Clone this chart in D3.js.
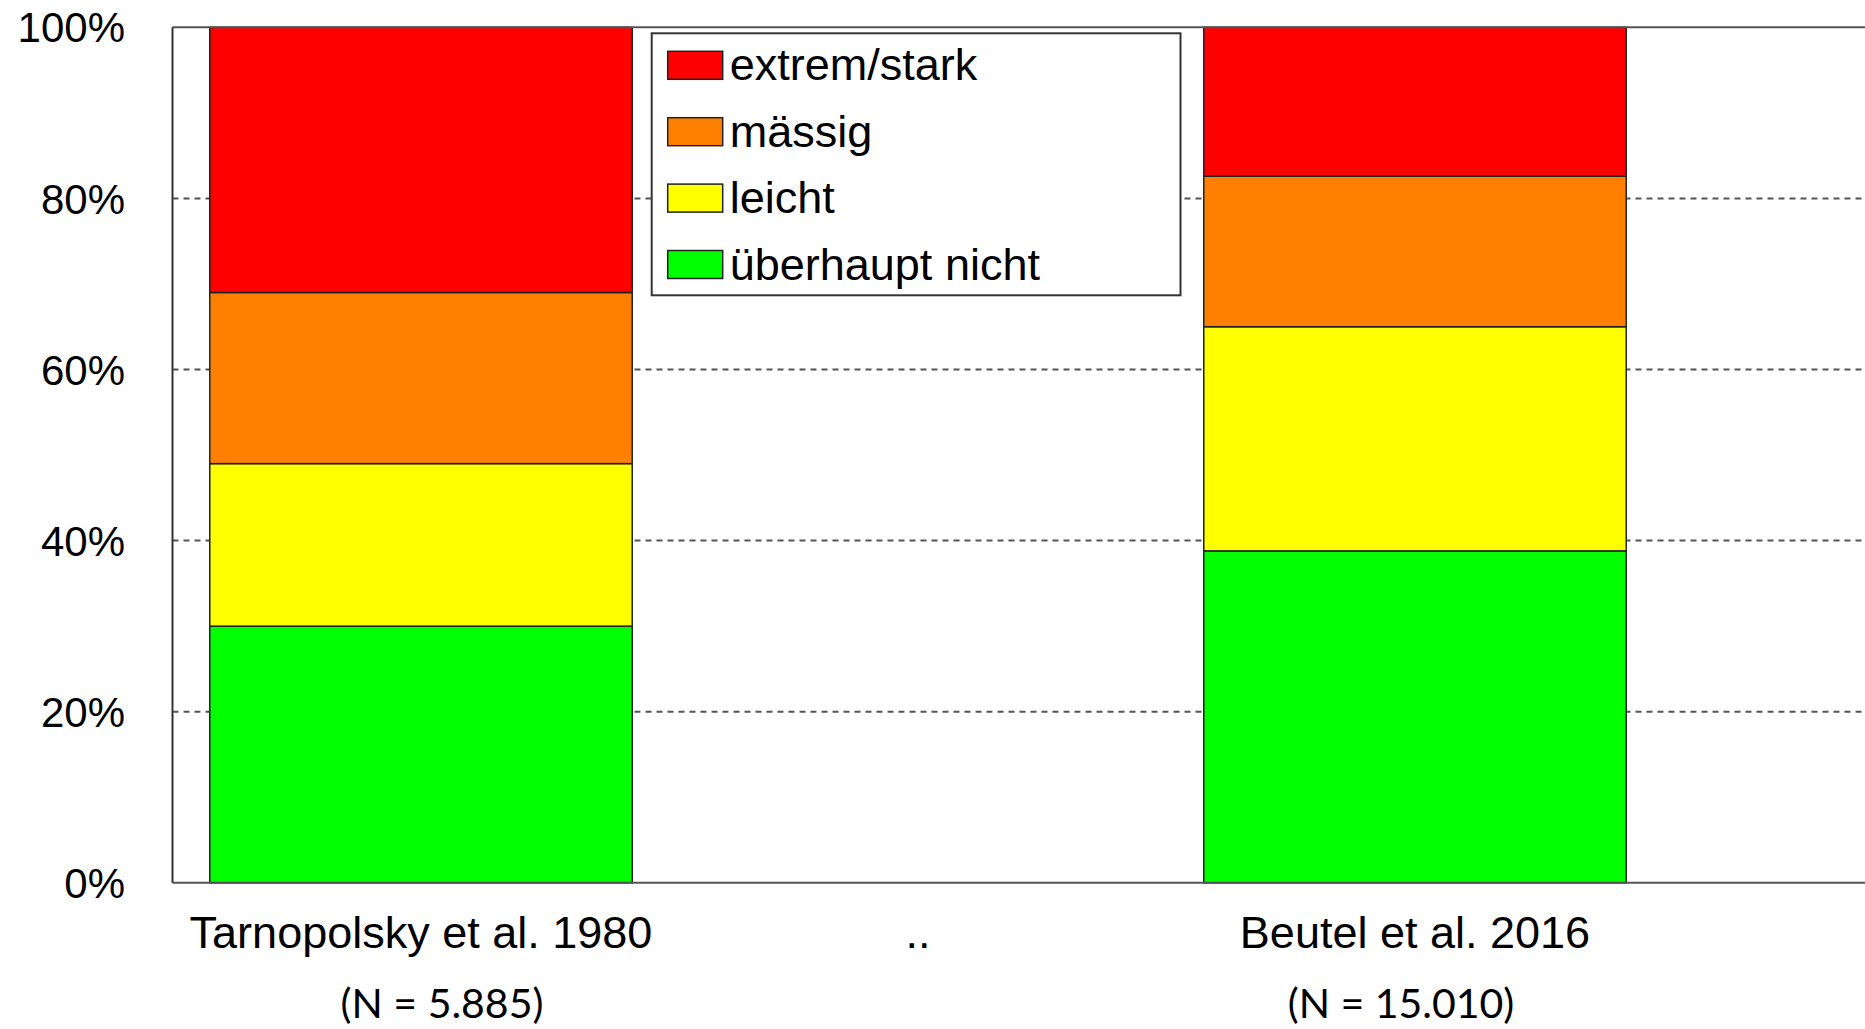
<!DOCTYPE html>
<html>
<head>
<meta charset="utf-8">
<script src="https://cdnjs.cloudflare.com/ajax/libs/d3/7.8.5/d3.min.js"></script>
<style>
  body { margin: 0; background: #fff; }
  svg { display: block; }
  text { font-family: Arial, "Liberation Sans", sans-serif; fill: #000; }
</style>
</head>
<body>
<svg width="1865" height="1029"></svg>
<script>
var categories = ["Tarnopolsky et al. 1980", "..", "Beutel et al. 2016"];
var sampleSizes = ["(N = 5.885)", "", "(N = 15.010)"];
var levels = ["überhaupt nicht", "leicht", "mässig", "extrem/stark"];
var colors = ["#00ff00", "#ffff00", "#ff8000", "#ff0000"];
// percent per level (bottom to top), one entry per category; null = no bar
var notAtAll = [30, null, 38.8];
var slight   = [19, null, 26.2];
var moderate = [20, null, 17.6];
var strong   = [31, null, 17.4];
var yTicks = [0, 20, 40, 60, 80, 100];

var svg = d3.select("svg"),
    width = +svg.attr("width"),
    height = +svg.attr("height");

var plotLeft = 172.5, plotTop = 27.3, plotBottom = 882.8;

var x = d3.scaleBand()
    .domain(categories)
    .range([plotLeft, 1663.5])
    .paddingInner(0.15)
    .paddingOuter(0.075);

var y = d3.scaleLinear().domain([0, 100]).range([plotBottom, plotTop]);

// dashed grid
svg.append("g")
  .selectAll("line")
  .data(yTicks.filter(function(d) { return d > 0 && d < 100; }))
  .enter().append("line")
    .attr("x1", plotLeft).attr("x2", width)
    .attr("y1", function(d) { return y(d); })
    .attr("y2", function(d) { return y(d); })
    .style("stroke", "#555")
    .style("stroke-width", 2)
    .style("stroke-dasharray", "6,5");

// stacked bars
var table = categories.map(function(c, i) {
  return { cat: c, a: notAtAll[i], b: slight[i], c: moderate[i], d: strong[i] };
}).filter(function(r) { return r.a != null; });

var stack = d3.stack().keys(["a", "b", "c", "d"]);
var series = stack(table);

svg.append("g")
  .selectAll("g")
  .data(series)
  .enter().append("g")
    .style("fill", function(d, i) { return colors[i]; })
  .selectAll("rect")
  .data(function(d) { return d; })
  .enter().append("rect")
    .attr("x", function(d) { return x(d.data.cat); })
    .attr("width", x.bandwidth())
    .attr("y", function(d) { return y(d[1]); })
    .attr("height", function(d) { return y(d[0]) - y(d[1]); })
    .style("stroke", "#222")
    .style("stroke-width", 1.5);

// frame
svg.append("line").attr("x1", plotLeft).attr("x2", width).attr("y1", plotTop).attr("y2", plotTop)
    .style("stroke", "#555").style("stroke-width", 2);
svg.append("line").attr("x1", plotLeft).attr("x2", width).attr("y1", plotBottom).attr("y2", plotBottom)
    .style("stroke", "#555").style("stroke-width", 2);
svg.append("line").attr("x1", plotLeft).attr("x2", plotLeft).attr("y1", plotTop).attr("y2", plotBottom)
    .style("stroke", "#333").style("stroke-width", 2);

// y labels
svg.append("g")
  .selectAll("text")
  .data(yTicks)
  .enter().append("text")
    .attr("x", 125)
    .attr("y", function(d) { return y(d); })
    .attr("dy", "0.36em")
    .attr("text-anchor", "end")
    .style("font-size", "42px")
    .text(function(d) { return d + "%"; });

// x labels
svg.append("g")
  .selectAll("text")
  .data(categories)
  .enter().append("text")
    .attr("x", function(d) { return x(d) + x.bandwidth() / 2; })
    .attr("y", 948)
    .attr("text-anchor", "middle")
    .style("font-size", "45px")
    .text(function(d) { return d; });

// sample sizes
var nShift = [21, 0, -14];
svg.append("g")
  .selectAll("text")
  .data(sampleSizes)
  .enter().append("text")
    .attr("x", function(d, i) { return x(categories[i]) + x.bandwidth() / 2 + nShift[i]; })
    .attr("y", 1018)
    .attr("text-anchor", "middle")
    .style("font-family", "Lato, 'Open Sans', sans-serif")
    .style("font-size", "41px")
    .text(function(d) { return d; });

// legend
var legend = svg.append("g").attr("transform", "translate(651.7,33.3)");
legend.append("rect")
    .attr("width", 528.8).attr("height", 262)
    .style("fill", "#fff").style("stroke", "#333").style("stroke-width", 2);

var item = legend.selectAll("g.item")
  .data(levels.slice().reverse())
  .enter().append("g")
    .attr("class", "item")
    .attr("transform", function(d, i) { return "translate(16," + (18 + i * 66.4) + ")"; });

item.append("rect")
    .attr("width", 55).attr("height", 28)
    .style("fill", function(d, i) { return colors[colors.length - 1 - i]; })
    .style("stroke", "#222").style("stroke-width", 1.5);

item.append("text")
    .attr("x", 62).attr("y", 29)
    .style("font-size", "45px")
    .text(function(d) { return d; });
</script>
</body>
</html>
